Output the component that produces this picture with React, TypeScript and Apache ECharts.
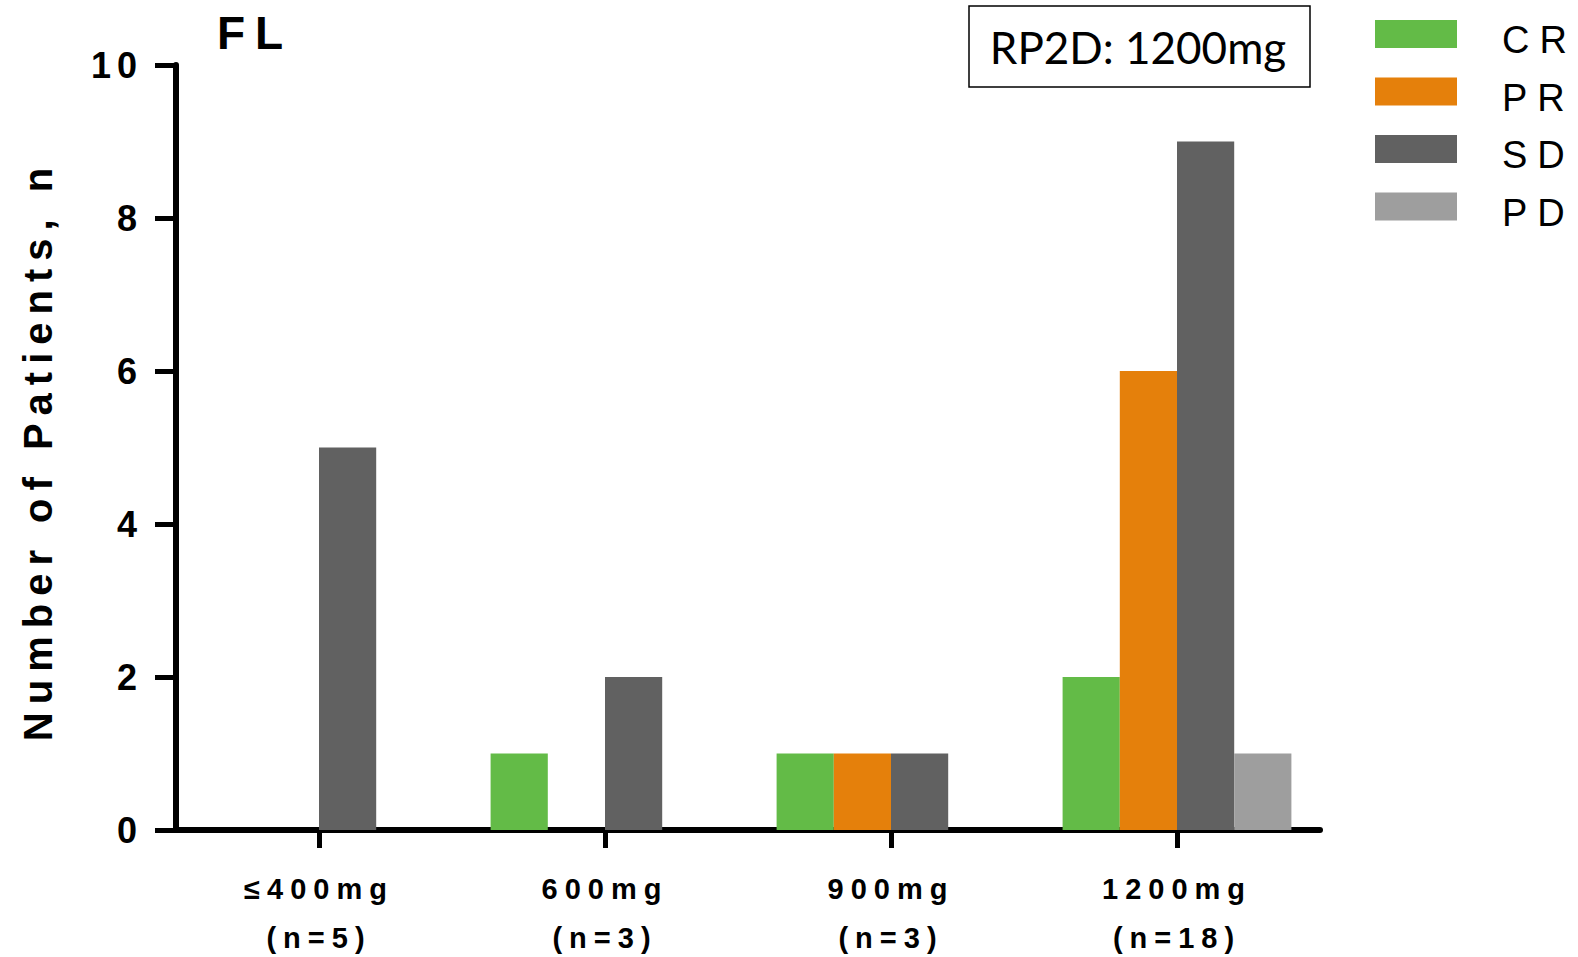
import React, { useEffect, useRef } from 'react';
import * as echarts from 'echarts';

const categories = ['≤400mg', '600mg', '900mg', '1200mg'];
const patientCounts = [5, 3, 3, 18];
const seriesNames = ['CR', 'PR', 'SD', 'PD'];
const crValues = [0, 1, 1, 2];
const prValues = [0, 0, 1, 6];
const sdValues = [5, 2, 1, 9];
const pdValues = [0, 0, 0, 1];
const yTicks = [0, 2, 4, 6, 8, 10];
const titleText = 'FL';
const yAxisName = 'Number of Patients, n';
const boxText = 'RP2D: 1200mg';

const seriesColors = ['#63BB47', '#E5800B', '#616161', '#9E9E9E'];
const FONT = '"Liberation Sans", Arial, Helvetica, sans-serif';

function spacingFor(s: string): number {
  if (s === boxText) return 0;
  if (s === titleText) return 10;
  if (seriesNames.includes(s)) return 10;
  if (/^\d+$/.test(s)) return 6;
  if (s === yAxisName) return 8;
  return 7;
}

function applySpacing(root: HTMLElement | null) {
  if (!root) return;
  root.querySelectorAll('text').forEach((t) => {
    const s = (t.textContent || '').trim();
    const ls = spacingFor(s);
    if (ls) t.setAttribute('letter-spacing', String(ls));
  });
}

export default function App() {
  const ref = useRef<HTMLDivElement>(null);

  useEffect(() => {
    if (!ref.current) return;
    const chart = echarts.init(ref.current, null, { renderer: 'svg' });
    const seriesData = [crValues, prValues, sdValues, pdValues];

    const legendGraphics: any[] = [];
    seriesNames.forEach((name, i) => {
      legendGraphics.push({
        type: 'rect',
        silent: true,
        shape: { x: 1375, y: 20 + i * 57.5, width: 82, height: 28 },
        style: { fill: seriesColors[i] },
      });
      legendGraphics.push({
        type: 'text',
        silent: true,
        x: 1502,
        y: 40 + i * 57.5,
        style: {
          text: name,
          fill: '#000',
          font: `38px ${FONT}`,
          align: 'left',
          verticalAlign: 'middle',
          textAlign: 'left',
          textVerticalAlign: 'middle',
        },
      });
    });

    const option: any = {
      animation: false,
      backgroundColor: '#fff',
      grid: {
        left: 176,
        right: 258,
        top: 65,
        bottom: 127,
        containLabel: false,
        outerBoundsMode: 'none',
      },
      xAxis: {
        type: 'category',
        data: categories,
        boundaryGap: true,
        axisLine: { show: true, lineStyle: { color: '#000', width: 6 } },
        axisTick: { show: true, alignWithLabel: true, length: 18, lineStyle: { color: '#000', width: 5 } },
        axisLabel: {
          interval: 0,
          margin: 34,
          color: '#000',
          fontFamily: FONT,
          fontWeight: 'bold',
          fontSize: 29,
          lineHeight: 49,
          formatter: (v: string, idx: number) => `${v}\n(n=${patientCounts[idx]})`,
        },
        splitLine: { show: false },
      },
      yAxis: {
        type: 'value',
        min: yTicks[0],
        max: yTicks[yTicks.length - 1],
        interval: yTicks[1] - yTicks[0],
        name: yAxisName,
        nameLocation: 'middle',
        nameGap: 118,
        nameTextStyle: {
          color: '#000',
          fontFamily: FONT,
          fontWeight: 'bold',
          fontSize: 40,
          padding: [0, 6, 0, 0],
        },
        axisLine: { show: true, lineStyle: { color: '#000', width: 6 } },
        axisTick: { show: true, length: 21, lineStyle: { color: '#000', width: 5 } },
        axisLabel: { margin: 33, color: '#000', fontFamily: FONT, fontWeight: 'bold', fontSize: 36 },
        splitLine: { show: false },
      },
      series: seriesNames.map((name, i) => ({
        name,
        type: 'bar',
        data: seriesData[i],
        barGap: '0%',
        barCategoryGap: '20%',
        silent: true,
        itemStyle: { color: seriesColors[i] },
        emphasis: { disabled: true },
      })),
      graphic: [
        {
          type: 'text',
          silent: true,
          x: 217,
          y: 33,
          style: {
            text: titleText,
            fill: '#000',
            font: `bold 46px ${FONT}`,
            align: 'left',
            verticalAlign: 'middle',
            textAlign: 'left',
            textVerticalAlign: 'middle',
          },
        },
        {
          type: 'rect',
          silent: true,
          shape: { x: 969, y: 6, width: 341, height: 81 },
          style: { fill: '#fff', stroke: '#000', lineWidth: 1.5 },
        },
        {
          type: 'text',
          silent: true,
          x: 1138,
          y: 47,
          style: {
            text: boxText,
            fill: '#000',
            font: '44px Lato, "Open Sans", sans-serif',
            align: 'center',
            verticalAlign: 'middle',
            textAlign: 'center',
            textVerticalAlign: 'middle',
          },
        },
        ...legendGraphics,
      ],
    };

    chart.setOption(option);
    const el = ref.current;
    applySpacing(el);
    const onFinished = () => applySpacing(el);
    chart.on('finished', onFinished);
    const timer = window.setTimeout(() => applySpacing(el), 50);

    return () => {
      window.clearTimeout(timer);
      chart.off('finished', onFinished);
      chart.dispose();
    };
  }, []);

  return (
    <div
      ref={ref}
      style={{ position: 'absolute', left: 0, top: 0, width: 1578, height: 957, background: '#fff' }}
    />
  );
}
